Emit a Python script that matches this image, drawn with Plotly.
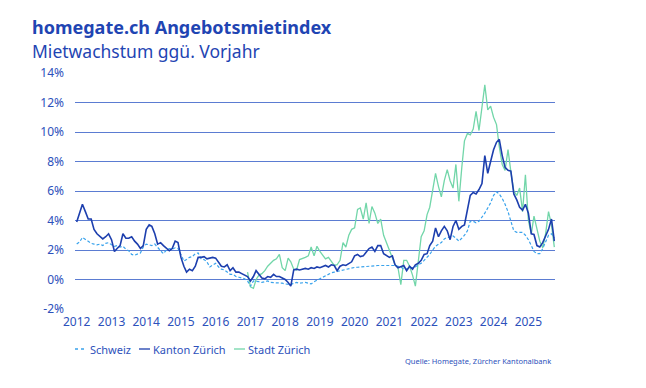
import pandas as pd
import plotly.graph_objects as go

# ---- data (monthly, Jan 2012 .. Oct 2025) ----
months = pd.date_range("2012-01-01", periods=166, freq="MS")

schweiz = [
    2.4, 2.55, 2.85, 2.7, 2.6, 2.45, 2.4, 2.35, 2.4, 2.3, 2.45, 2.5,
    2.35, 2.25, 2.3, 2.2, 2.25, 2.05, 1.95, 1.7, 1.65, 1.75, 1.8, 2.2,
    2.4, 2.35, 2.3, 2.4, 2.15, 1.95, 1.75, 2.0, 2.1, 2.05, 2.15, 2.1,
    1.7, 1.25, 1.35, 1.5, 1.55, 1.75, 1.8, 1.4, 1.35, 1.2, 0.85, 1.0,
    1.1, 0.85, 0.7, 0.65, 0.5, 0.35, 0.35, 0.2, 0.15, 0.1, 0.05, -0.1,
    -0.45, -0.1, -0.1, -0.15, -0.2, -0.15, -0.1, -0.2, -0.2, -0.2, -0.2, -0.25,
    -0.3, -0.3, -0.35, -0.25, -0.2, -0.25, -0.2, -0.2, -0.25, -0.3, -0.15, -0.05,
    0.1, 0.2, 0.3, 0.4, 0.45, 0.5, 0.55, 0.6, 0.65, 0.7, 0.75, 0.8,
    0.82, 0.83, 0.85, 0.88, 0.9, 0.9, 0.9, 0.93, 0.95, 0.95, 0.95, 0.97,
    1.0, 1.0, 0.95, 0.9, 0.85, 0.7, 0.7, 0.75, 0.8, 0.85, 1.0, 1.1,
    1.3, 1.5, 1.7, 2.0, 2.25, 2.4, 2.5, 2.75, 2.85, 2.85, 2.95, 2.8,
    2.6, 2.8, 3.0, 3.3, 3.95, 3.95, 3.85, 3.95, 4.2, 4.5, 4.85, 5.2,
    5.7, 5.95, 5.8, 5.5, 5.1, 4.6, 3.95, 3.3, 3.2, 3.2, 3.2, 3.0,
    2.7, 2.3, 1.9, 1.75, 1.75, 2.1, 2.6, 3.0, 3.1, 2.8,
]

kanton = [
    3.9, 4.6, 5.1, 4.6, 4.1, 4.1, 3.4, 3.1, 2.9, 2.75, 2.9, 3.1,
    2.7, 1.9, 2.1, 2.3, 3.1, 2.8, 2.8, 2.9, 2.6, 2.4, 2.1, 2.3,
    3.4, 3.7, 3.6, 3.1, 2.4, 2.5, 2.3, 2.1, 1.95, 2.1, 2.6, 2.5,
    1.5, 0.9, 0.5, 0.7, 0.6, 0.9, 1.5, 1.5, 1.55, 1.4, 1.45, 1.5,
    1.45, 1.2, 0.9, 0.85, 1.0, 0.6, 0.8, 0.5, 0.5, 0.4, 0.3, 0.2,
    -0.1, 0.2, 0.6, 0.3, 0.1, 0.05, 0.2, 0.15, 0.35, 0.2, 0.2, 0.1,
    0.0, -0.2, -0.45, 0.65, 0.7, 0.65, 0.7, 0.75, 0.7, 0.8, 0.75, 0.85,
    0.8, 0.9, 0.95, 0.85, 1.0, 0.95, 0.6, 0.9, 1.0, 0.95, 1.1, 1.2,
    1.6, 1.7, 1.55, 1.6, 1.85, 2.1, 2.2, 1.9, 2.3, 2.3, 1.75, 1.6,
    1.5, 1.6, 1.0, 0.8, 0.9, 0.95, 0.6, 0.9, 0.7, 1.0, 1.1, 1.3,
    1.7, 1.75, 2.3, 2.6, 3.5, 2.9, 3.3, 3.6, 3.3, 2.7, 3.6, 4.0,
    3.4, 3.6, 3.7, 4.6, 5.7, 5.9, 5.8, 6.1, 6.5, 8.4, 7.2, 8.0,
    8.8, 9.3, 9.5, 8.4, 7.6, 7.4, 7.35, 5.8, 5.4, 4.9, 4.7, 5.1,
    4.5, 3.1, 3.05, 2.3, 2.2, 2.5, 2.9, 3.4, 4.1, 2.6,
]

stadt = [None] * 59 + [
    0.5, -0.5, -0.6, 0.0, 0.3, 0.4, 0.6, 0.9, 1.1, 1.3, 1.4, 1.7, 0.8,
    0.6, 1.45, 1.2, 0.7, 0.65, 1.35, 1.4, 1.5, 1.6, 2.2, 1.6, 2.25,
    1.9, 1.6, 1.4, 1.5, 1.2, 0.95, 1.0, 1.3, 2.5, 2.2, 3.0, 3.4,
    3.5, 4.75, 4.85, 4.1, 5.2, 3.8, 4.95, 4.5, 3.8, 4.1, 3.0, 2.5,
    2.0, 1.6, 1.0, 0.8, -0.35, 1.3, 1.3, 0.9, 0.3, -0.45, 1.4, 2.9,
    3.3, 4.4, 4.9, 6.1, 7.2, 6.3, 5.6, 6.7, 7.45, 6.7, 6.2, 7.8,
    5.3, 7.6, 9.4, 9.9, 9.8, 10.2, 11.4, 10.1, 11.6, 13.2, 11.5, 11.75,
    11.0, 10.5, 9.0, 7.8, 7.4, 8.8, 7.3, 6.0, 5.7, 6.2, 4.6, 7.1,
    4.0, 3.1, 4.3, 3.4, 2.6, 2.15, 3.1, 4.6, 3.7, 2.2,
]

series_names = ["Schweiz", "Kanton Zürich", "Stadt Zürich"]
y_tickvals = [-2, 0, 2, 4, 6, 8, 10, 12, 14]
y_ticktext = ["-2%", "0%", "2%", "4%", "6%", "8%", "10%", "12%", "14%"]
x_years = list(range(2012, 2026))
x_tickvals = [f"{y}-01-01" for y in x_years]
x_ticktext = [str(y) for y in x_years]

title = "homegate.ch Angebotsmietindex"
subtitle = "Mietwachstum ggü. Vorjahr"
source = "Quelle: Homegate, Zürcher Kantonalbank"

# ---- styles ----
C_SCHWEIZ = "#3aa3ec"
C_KANTON = "#1d3fae"
C_STADT = "#72d6a9"
C_TEXT = "#1f45b3"
C_TICK = "#2d51bb"
C_GRID = "#5b7cd2"
FONT = "Noto Sans"

fig = go.Figure()
fig.add_trace(go.Scatter(x=months, y=stadt, name=series_names[2], mode="lines",
                         line=dict(color=C_STADT, width=1.3), connectgaps=False))
fig.add_trace(go.Scatter(x=months, y=schweiz, name=series_names[0], mode="lines",
                         line=dict(color=C_SCHWEIZ, width=1.2, dash="3px,2px")))
fig.add_trace(go.Scatter(x=months, y=kanton, name=series_names[1], mode="lines",
                         line=dict(color=C_KANTON, width=1.6)))

L, R, T, B = 75, 91, 73, 79
W, H = 646, 388
pw, ph = W - L - R, H - T - B


def px_x(p):
    return (p - L) / pw


def px_y(p):
    return (H - B - p) / ph


annotations = [
    dict(text=f"<b>{title}</b>", x=px_x(30), y=px_y(27), xref="paper", yref="paper",
         xanchor="left", yanchor="middle", showarrow=False,
         font=dict(family=FONT, size=18, color=C_TEXT)),
    dict(text=subtitle, x=px_x(30), y=px_y(51), xref="paper", yref="paper",
         xanchor="left", yanchor="middle", showarrow=False,
         font=dict(family=FONT, size=17.5, color=C_TEXT)),
    dict(text=source, x=px_x(553), y=px_y(361), xref="paper", yref="paper",
         xanchor="right", yanchor="middle", showarrow=False,
         font=dict(family=FONT, size=7.5, color=C_TICK)),
]

# manual legend
legend_items = [
    (series_names[0], C_SCHWEIZ, "dot", 75, 86.5, 87.5),
    (series_names[1], C_KANTON, "solid", 139, 150, 150.5),
    (series_names[2], C_STADT, "solid", 234, 245, 245.5),
]
shapes = []
ly = 349
for name, col, dash, x0, x1, tx in legend_items:
    shapes.append(dict(type="line", xref="paper", yref="paper",
                       x0=px_x(x0), x1=px_x(x1), y0=px_y(ly), y1=px_y(ly),
                       line=dict(color=col, width=1.3, dash=dash)))
    annotations.append(dict(text=name, x=px_x(tx), y=px_y(ly), xref="paper", yref="paper",
                            xanchor="left", yanchor="middle", showarrow=False,
                            font=dict(family=FONT, size=11, color=C_TICK)))

fig.update_layout(
    width=W, height=H,
    margin=dict(l=L, r=R, t=T, b=B, pad=0),
    paper_bgcolor="white", plot_bgcolor="white",
    showlegend=False,
    font=dict(family=FONT, size=12, color=C_TICK),
    annotations=annotations,
    shapes=shapes,
)
fig.update_xaxes(
    type="date", range=["2011-12-14", "2025-10-08"],
    tickvals=x_tickvals, ticktext=x_ticktext,
    showgrid=False, zeroline=False, showline=False, ticks="",
    tickfont=dict(family=FONT, size=12, color=C_TICK),
    ticklabelstandoff=4,
)
fig.update_yaxes(
    range=[-2, 14], tickvals=y_tickvals, ticktext=y_ticktext,
    showgrid=True, gridcolor=C_GRID, gridwidth=1,
    zeroline=False, showline=False, ticks="",
    tickfont=dict(family=FONT, size=12, color=C_TICK),
    ticklabelstandoff=10,
)

fig.write_html("out.html")
